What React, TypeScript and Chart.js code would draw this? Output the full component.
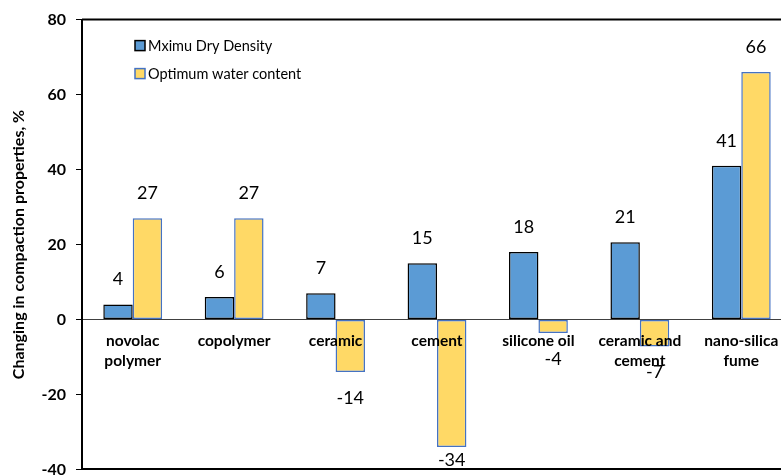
import React, { useEffect, useRef } from "react";
import { Chart, registerables } from "chart.js";

Chart.register(...registerables);

const categories: string[][] = [
  ["novolac", "polymer"],
  ["copolymer"],
  ["ceramic"],
  ["cement"],
  ["silicone oil"],
  ["ceramic and", "cement"],
  ["nano-silica", "fume"],
];

const maxDryDensity: number[] = [4, 6, 7, 15, 18, 20.6, 41];
const optimumWater: number[] = [27, 27, -14, -34, -3.6, -7.2, 66];

const seriesNames: string[] = ["Mximu Dry Density", "Optimum water content"];
const yTicks: number[] = [-40, -20, 0, 20, 40, 60, 80];

const BLUE = "#5B9BD5";
const YELLOW = "#FFD966";
const YELLOW_EDGE = "#4472C4";
const FONT = "Lato, 'Open Sans', sans-serif";

const fmt = (v: number) => String(Math.sign(v) * Math.round(Math.abs(v)));

const overlay = {
  id: "overlay",
  afterDatasetsDraw(chart: any) {
    const { ctx, chartArea, scales } = chart;
    const xs = scales.x;
    const ys = scales.y;
    ctx.save();
    // top border
    ctx.strokeStyle = "#000";
    ctx.lineWidth = 2;
    ctx.beginPath();
    ctx.moveTo(chartArea.left, chartArea.top);
    ctx.lineTo(chartArea.right + 10, chartArea.top);
    ctx.stroke();

    // data labels
    ctx.fillStyle = "#000";
    ctx.textAlign = "center";
    ctx.textBaseline = "middle";
    ctx.font = `18px ${FONT}`;
    chart.data.datasets.forEach((ds: any, di: number) => {
      const meta = chart.getDatasetMeta(di);
      meta.data.forEach((bar: any, i: number) => {
        const v = ds.data[i] as number;
        let ty = v >= 0 ? bar.y - 25 : bar.y + 26;
        ty = Math.min(ty, chartArea.bottom - 9);
        ctx.fillText(fmt(v), bar.x, ty);
      });
    });

    // category labels near zero line
    ctx.font = `bold 15.5px ${FONT}`;
    const y0 = ys.getPixelForValue(0);
    categories.forEach((lines, i) => {
      const cx = xs.getPixelForValue(i);
      lines.forEach((line, li) => {
        ctx.fillText(line, cx, y0 + 22 + li * 20);
      });
    });

    // legend
    ctx.font = `14.5px ${FONT}`;
    ctx.textAlign = "left";
    const lx = chartArea.left + 53;
    const ly = chartArea.top + 26;
    const fills = [BLUE, YELLOW];
    const edges = ["#000", YELLOW_EDGE];
    seriesNames.forEach((name, i) => {
      const yy = ly + i * 28;
      ctx.fillStyle = fills[i];
      ctx.fillRect(lx, yy - 5, 10, 10);
      ctx.strokeStyle = edges[i];
      ctx.lineWidth = 1.5;
      ctx.strokeRect(lx, yy - 5, 10, 10);
      ctx.fillStyle = "#000";
      ctx.fillText(name, lx + 13, yy + 1);
    });
    ctx.restore();
  },
};

export default function App() {
  const ref = useRef<HTMLCanvasElement | null>(null);
  useEffect(() => {
    if (!ref.current) return;
    const chart = new Chart(ref.current, {
      type: "bar",
      data: {
        labels: categories.map((c) => c.join(" ")),
        datasets: [
          {
            label: seriesNames[0],
            data: maxDryDensity,
            backgroundColor: BLUE,
            borderColor: "#000",
            borderWidth: 1.5,
            borderSkipped: false,
          },
          {
            label: seriesNames[1],
            data: optimumWater,
            backgroundColor: YELLOW,
            borderColor: YELLOW_EDGE,
            borderWidth: 1.5,
            borderSkipped: false,
          },
        ],
      },
      options: {
        responsive: false,
        animation: false,
        devicePixelRatio: 1,
        layout: { padding: { top: 17, right: 8, bottom: 0, left: 0 } },
        plugins: {
          legend: { display: false },
          tooltip: { enabled: false },
        },
        datasets: {
          bar: { categoryPercentage: 0.58, barPercentage: 1.0 },
        },
        scales: {
          x: {
            position: "bottom",
            ticks: { display: false },
            grid: { display: false },
            border: { display: true, color: "#000", width: 2 },
            afterFit: (s: any) => {
              s.height = 0;
            },
          },
          y: {
            min: -40,
            max: 80,
            afterBuildTicks: (s: any) => {
              s.ticks = yTicks.map((v) => ({ value: v }));
            },
            ticks: {
              color: "#000",
              font: { family: FONT, size: 16, weight: "bold" },
              padding: 10,
            },
            grid: {
              color: (c: any) =>
                c.tick && c.tick.value === 0 ? "#404040" : "rgba(0,0,0,0)",
              tickColor: "#000",
              tickLength: 6,
              drawTicks: true,
              lineWidth: 1,
            },
            border: { display: true, color: "#000", width: 2 },
            title: {
              display: true,
              text: "Changing in compaction properties, %",
              color: "#000",
              font: { family: FONT, size: 16, weight: "bold" },
              padding: { top: 9, bottom: 0 },
            },
            afterFit: (s: any) => {
              s.width = 82;
            },
          },
        },
      },
      plugins: [overlay],
    });
    return () => chart.destroy();
  }, []);
  return (
    <div
      style={{
        position: "fixed",
        left: 0,
        top: 0,
        width: 781,
        height: 476,
        overflow: "hidden",
        background: "#fff",
      }}
    >
      <canvas ref={ref} width={800} height={489} style={{ display: "block" }} />
    </div>
  );
}
